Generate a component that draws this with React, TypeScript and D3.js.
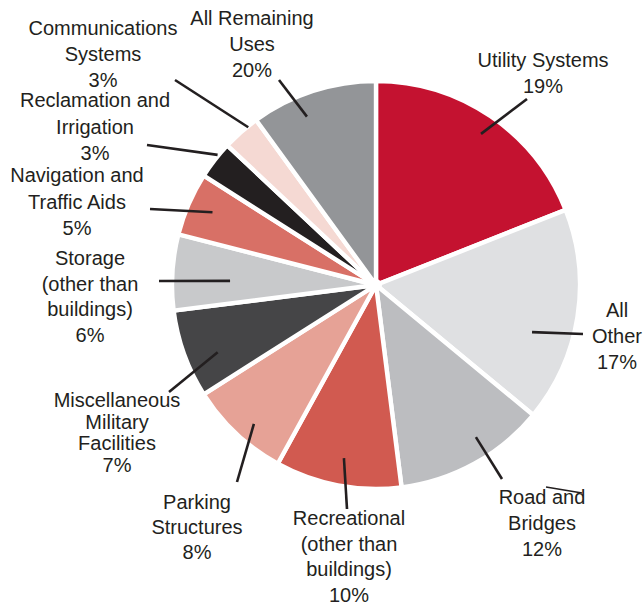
import React from "react";
import * as d3 from "d3";

// ---- data ----
const categories = [
  "Utility Systems",
  "All Other",
  "Road and Bridges",
  "Recreational (other than buildings)",
  "Parking Structures",
  "Miscellaneous Military Facilities",
  "Storage (other than buildings)",
  "Navigation and Traffic Aids",
  "Reclamation and Irrigation",
  "Communications Systems",
  "All Remaining Uses",
];
// slice sizes as drawn in the picture (percent)
const values = [19, 17, 12, 10, 8, 7, 6, 5, 3, 3, 10];
// percent text as printed in the labels
const pctLabels = ["19%", "17%", "12%", "10%", "8%", "7%", "6%", "5%", "3%", "3%", "20%"];
// label line breaks
const labelLines = [
  ["Utility Systems"],
  ["All", "Other"],
  ["Road and", "Bridges"],
  ["Recreational", "(other than", "buildings)"],
  ["Parking", "Structures"],
  ["Miscellaneous", "Military", "Facilities"],
  ["Storage", "(other than", "buildings)"],
  ["Navigation and", "Traffic Aids"],
  ["Reclamation and", "Irrigation"],
  ["Communications", "Systems"],
  ["All Remaining", "Uses"],
];

// ---- style / layout ----
const colors = [
  "#c41230",
  "#dfe0e2",
  "#bcbdc0",
  "#d15a50",
  "#e6a296",
  "#454547",
  "#c8c9cb",
  "#d87066",
  "#231f20",
  "#f5d9d3",
  "#939598",
];

const W = 644;
const H = 605;
const CX = 376;
const CY = 285;
const R = 204;
const INK = "#231f20";

// label anchor (center x, first baseline, line spacing), leader: angle tweak (deg), inner radius, outer end
const layout = [
  { lx: 543, ly: 67, sp: 26, da: 0.6, ri: 184, ox: 527, oy: 99 },
  { lx: 617, ly: 317, sp: 26, da: 7.8, ri: 163, ox: 583, oy: 334 },
  { lx: 542, ly: 504, sp: 26, da: -4.5, ri: 182, ox: 502, oy: 479 },
  { lx: 349, ly: 525, sp: 25.5, da: -0.3, ri: 176, ox: 347, oy: 509 },
  { lx: 197, ly: 509, sp: 25, da: -1.9, ri: 185, ox: 237, oy: 482 },
  { lx: 117, ly: 407, sp: 21.5, da: -3.2, ri: 172, ox: 169, oy: 392 },
  { lx: 90, ly: 265, sp: 25.7, da: -2, ri: 146, ox: 159, oy: 281 },
  { lx: 77, ly: 182, sp: 26.5, da: 0.6, ri: 179, ox: 150, oy: 209 },
  { lx: 95, ly: 107, sp: 26.5, da: 1.6, ri: 205, ox: 147, oy: 145 },
  { lx: 103, ly: 35, sp: 26, da: 2.4, ri: 203, ox: 175, oy: 80 },
  { lx: 252, ly: 25, sp: 26, da: -4.3, ri: 182, ox: 279, oy: 80 },
];

export default function App() {
  const pie = d3.pie<number>().sort(null).value((d) => d);
  const arcs = pie(values);
  const arc = d3
    .arc<d3.PieArcDatum<number>>()
    .innerRadius(0)
    .outerRadius(R);

  return (
    <svg
      width={W}
      height={H}
      style={{ position: "absolute", left: 0, top: 0, background: "#fff" }}
      fontFamily="'Liberation Sans', Arial, sans-serif"
    >
      <rect width={W} height={H} fill="#fff" />
      <g transform={`translate(${CX},${CY})`}>
        {arcs.map((a, i) => (
          <path
            key={i}
            d={arc(a) || ""}
            fill={colors[i]}
            stroke="#fff"
            strokeWidth={4.4}
            strokeLinejoin="miter"
            strokeMiterlimit={2}
          />
        ))}
        <circle r={6} fill="#fff" />
      </g>
      {arcs.map((a, i) => {
        const L = layout[i];
        const mid = (a.startAngle + a.endAngle) / 2 + (L.da * Math.PI) / 180;
        const x1 = CX + L.ri * Math.sin(mid);
        const y1 = CY - L.ri * Math.cos(mid);
        return (
          <line
            key={"l" + i}
            x1={x1}
            y1={y1}
            x2={L.ox}
            y2={L.oy}
            stroke={INK}
            strokeWidth={2.6}
          />
        );
      })}
      {/* stray stroke over "Road and" as in the source */}
      <line x1={546} y1={487} x2={582} y2={493} stroke={INK} strokeWidth={1.6} />
      {categories.map((c, i) => {
        const L = layout[i];
        const lines = [...labelLines[i], pctLabels[i]];
        return (
          <text
            key={"t" + i}
            x={L.lx}
            textAnchor="middle"
            fontSize={20}
            fill={INK}
          >
            {lines.map((t, j) => (
              <tspan key={j} x={L.lx} y={L.ly + j * L.sp}>
                {t}
              </tspan>
            ))}
          </text>
        );
      })}
    </svg>
  );
}
